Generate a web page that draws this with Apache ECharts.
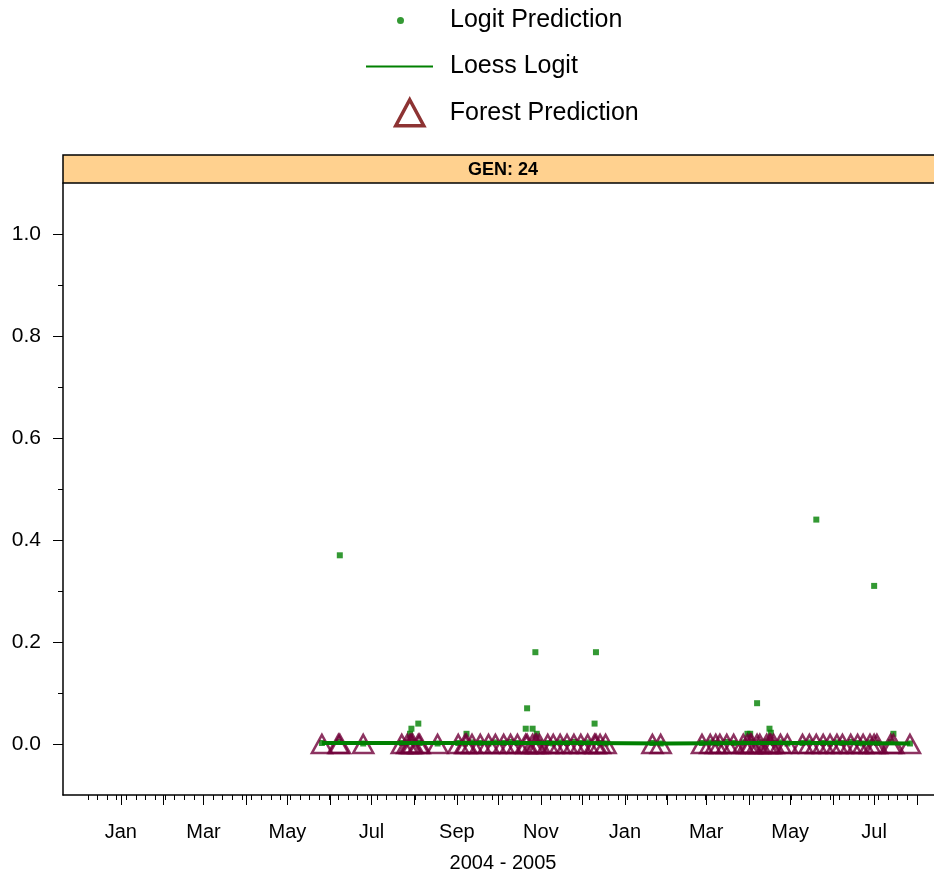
<!DOCTYPE html>
<html>
<head>
<meta charset="utf-8">
<script src="https://cdn.jsdelivr.net/npm/echarts@6/dist/echarts.min.js"></script>
<style>
  html, body { margin: 0; padding: 0; background: #ffffff; overflow: hidden; }
  #chart { width: 934px; height: 877px; }
</style>
</head>
<body>
<div id="chart"></div>
<script>
// Observation dates for GEN 24 and the two model predictions at each date
const obsDates = [
  '2004-05-26','2004-06-07','2004-06-08','2004-06-25','2004-07-23','2004-07-27','2004-07-29','2004-07-30',
  '2004-07-31','2004-08-04','2004-08-05','2004-08-18','2004-09-02','2004-09-07','2004-09-08','2004-09-12',
  '2004-09-18','2004-09-24','2004-09-29','2004-10-05','2004-10-10','2004-10-15','2004-10-21','2004-10-22',
  '2004-10-26','2004-10-28','2004-10-29','2004-10-31','2004-11-06','2004-11-10','2004-11-15','2004-11-20',
  '2004-11-25','2004-11-30','2004-12-05','2004-12-10','2004-12-11','2004-12-14','2004-12-18','2005-01-21',
  '2005-01-27','2005-02-26','2005-03-04','2005-03-08','2005-03-11','2005-03-16','2005-03-21','2005-03-28',
  '2005-03-31','2005-04-02','2005-04-03','2005-04-07','2005-04-09','2005-04-14','2005-04-16','2005-04-17',
  '2005-04-19','2005-04-24','2005-04-29','2005-05-10','2005-05-15','2005-05-20','2005-05-25','2005-05-30',
  '2005-06-04','2005-06-08','2005-06-14','2005-06-19','2005-06-23','2005-06-28','2005-07-01','2005-07-03',
  '2005-07-13','2005-07-15','2005-07-27'
];
const logitPred = [
  0.002, 0.004, 0.37, 0.001, 0.002, 0.003, 0.02, 0.03,
  0.004, 0.04, 0.002, 0.001, 0.002, 0.001, 0.02, 0.003,
  0.002, 0.001, 0.003, 0.002, 0.004, 0.002, 0.03, 0.07,
  0.03, 0.18, 0.02, 0.003, 0.002, 0.001, 0.003, 0.002,
  0.004, 0.002, 0.003, 0.04, 0.18, 0.002, 0.001, 0.002,
  0.001, 0.002, 0.003, 0.002, 0.001, 0.004, 0.002, 0.003,
  0.02, 0.02, 0.004, 0.08, 0.003, 0.005, 0.03, 0.022,
  0.002, 0.003, 0.001, 0.002, 0.003, 0.44, 0.002, 0.001,
  0.003, 0.002, 0.004, 0.002, 0.001, 0.003, 0.31, 0.002,
  0.004, 0.02, 0.001
];
const forestPred = [
  0, 0, 0, 0, 0, 0, 0, 0,
  0, 0, 0, 0, 0, 0, 0, 0,
  0, 0, 0, 0, 0, 0, 0, 0,
  0, 0, 0, 0, 0, 0, 0, 0,
  0, 0, 0, 0, 0, 0, 0, 0,
  0, 0, 0, 0, 0, 0, 0, 0,
  0, 0, 0, 0, 0, 0, 0, 0,
  0, 0, 0, 0, 0, 0, 0, 0,
  0, 0, 0, 0, 0, 0, 0, 0,
  0, 0, 0
];

// Loess smooth of the logit predictions
const loessDates  = ['2004-05-26','2004-08-01','2004-10-01','2004-12-01','2005-02-01','2005-04-01','2005-06-01','2005-07-27'];
const loessValues = [0.002, 0.002, 0.002, 0.002, 0.001, 0.002, 0.002, 0.001];

// Axis ticks and labels
const yTickValues  = [0, 0.2, 0.4, 0.6, 0.8, 1.0];
const yMinorValues = [0.1, 0.3, 0.5, 0.7, 0.9];
const monthLabelDates = ['2004-01-01','2004-03-01','2004-05-01','2004-07-01','2004-09-01','2004-11-01',
                         '2005-01-01','2005-03-01','2005-05-01','2005-07-01'];
const monthLabels = ['Jan','Mar','May','Jul','Sep','Nov','Jan','Mar','May','Jul'];
const axisStart = '2003-11-20';
const axisEnd   = '2005-08-20';
const firstWeekTick = '2003-12-08';
const lastTick = '2005-08-01';

// x positions are whole days counted from 1 Jan 2004
const DAY = 86400000;
const ORIGIN = Date.UTC(2004, 0, 1);
function dayOf(s) {
  const p = s.split('-').map(Number);
  return Math.round((Date.UTC(p[0], p[1] - 1, p[2]) - ORIGIN) / DAY);
}

const xMin = dayOf(axisStart);
const xMax = dayOf(axisEnd);

// month-start ticks, Jan 2004 .. Aug 2005
const monthTicks = [];
for (let y = 2004, m = 0; ; m++) {
  if (m === 12) { m = 0; y++; }
  const d = Math.round((Date.UTC(y, m, 1) - ORIGIN) / DAY);
  if (d > dayOf(lastTick)) break;
  monthTicks.push(d);
}
// weekly ticks
const weekTicks = [];
for (let d = dayOf(firstWeekTick); d <= dayOf(lastTick); d += 7) weekTicks.push(d);

const labelMap = {};
monthLabelDates.forEach((s, i) => { labelMap[dayOf(s)] = monthLabels[i]; });

const logitData  = obsDates.map((s, i) => [dayOf(s), logitPred[i]]);
const forestData = obsDates.map((s, i) => [dayOf(s), forestPred[i]]);
const loessData  = loessDates.map((s, i) => [dayOf(s), loessValues[i]]);

const FONT = "'Liberation Sans', Arial, sans-serif";
const GREEN = '#008000';
const FOREST = '#700039';

const chart = echarts.init(document.getElementById('chart'), null, { renderer: 'canvas' });

const legendBase = {
  orient: 'horizontal',
  padding: 0,
  selectedMode: false,
  textStyle: { fontFamily: FONT, fontSize: 25, color: '#000' }
};

chart.setOption({
  animation: false,
  backgroundColor: '#ffffff',
  legend: [
    Object.assign({}, legendBase, {
      data: ['Logit Prediction'], left: 397, top: 8,
      icon: 'circle', itemWidth: 7, itemHeight: 7,
      itemStyle: { color: GREEN },
      textStyle: Object.assign({}, legendBase.textStyle, { padding: [0, 0, 0, 41] })
    }),
    Object.assign({}, legendBase, {
      data: ['Loess Logit'], left: 366, top: 54,
      icon: 'rect', itemWidth: 67, itemHeight: 2,
      itemStyle: { color: GREEN },
      textStyle: Object.assign({}, legendBase.textStyle, { padding: [0, 0, 0, 12] })
    }),
    Object.assign({}, legendBase, {
      data: ['Forest Prediction'], left: 394, top: 98,
      icon: 'triangle', itemWidth: 28, itemHeight: 26,
      itemStyle: { color: 'rgba(0,0,0,0)', borderColor: '#700000', borderWidth: 3.5 },
      textStyle: Object.assign({}, legendBase.textStyle, { padding: [0, 0, 0, 21] })
    })
  ],
  grid: {
    left: 63, top: 183, width: 880, height: 612,
    outerBoundsMode: 'none', containLabel: false,
    show: false
  },
  graphic: [
    {
      type: 'rect', z: 10,
      shape: { x: 63, y: 155, width: 900, height: 28 },
      style: { fill: '#ffd18f', stroke: '#000', lineWidth: 1.5 }
    },
    {
      type: 'text', z: 11, x: 503, y: 170,
      style: {
        text: 'GEN: 24', fontFamily: FONT, fontWeight: 'bold', fontSize: 18,
        fill: '#000', align: 'center', verticalAlign: 'middle'
      }
    }
  ],
  xAxis: [
    {
      type: 'value', min: xMin, max: xMax, position: 'bottom',
      name: '2004 - 2005', nameLocation: 'middle', nameGap: 58,
      nameTextStyle: { fontFamily: FONT, fontSize: 20, color: '#000' },
      axisLine: { show: true, onZero: false, lineStyle: { color: '#000', width: 1.5 } },
      axisTick: { show: true, inside: false, length: 10, customValues: monthTicks,
                  lineStyle: { color: '#000', width: 1 } },
      axisLabel: {
        show: true, margin: 27, customValues: monthLabelDates.map(dayOf),
        fontFamily: FONT, fontSize: 20, color: '#000',
        formatter: v => labelMap[Math.round(v)] || ''
      },
      splitLine: { show: false }
    },
    {
      type: 'value', min: xMin, max: xMax, position: 'bottom', offset: 0,
      axisLine: { show: false, onZero: false },
      axisTick: { show: true, inside: false, length: 5, customValues: weekTicks,
                  lineStyle: { color: '#000', width: 1 } },
      axisLabel: { show: false },
      splitLine: { show: false }
    }
  ],
  yAxis: [
    {
      type: 'value', min: -0.1, max: 1.1, position: 'left',
      axisLine: { show: true, onZero: false, lineStyle: { color: '#000', width: 1.5 } },
      axisTick: { show: true, inside: false, length: 10, customValues: yTickValues,
                  lineStyle: { color: '#000', width: 1 } },
      axisLabel: {
        show: true, margin: 22, customValues: yTickValues,
        fontFamily: FONT, fontSize: 21, color: '#000',
        formatter: v => v.toFixed(1)
      },
      splitLine: { show: false }
    },
    {
      type: 'value', min: -0.1, max: 1.1, position: 'left', offset: 0,
      axisLine: { show: false, onZero: false },
      axisTick: { show: true, inside: false, length: 5, customValues: yMinorValues,
                  lineStyle: { color: '#000', width: 1 } },
      axisLabel: { show: false },
      splitLine: { show: false }
    }
  ],
  series: [
    {
      name: 'Logit Prediction', type: 'scatter', xAxisIndex: 0, yAxisIndex: 0,
      symbol: 'rect', symbolSize: 6,
      itemStyle: { color: GREEN },
      data: logitData
    },
    {
      name: 'Loess Logit', type: 'line', xAxisIndex: 0, yAxisIndex: 0,
      showSymbol: false, symbol: 'none', smooth: false,
      lineStyle: { color: GREEN, width: 4 },
      itemStyle: { color: GREEN },
      data: loessData
    },
    {
      name: 'Forest Prediction', type: 'scatter', xAxisIndex: 0, yAxisIndex: 0,
      symbol: 'triangle', symbolSize: [20, 18],
      itemStyle: { color: 'rgba(0,0,0,0)', borderColor: FOREST, borderWidth: 2.5 },
      data: forestData
    }
  ]
});
</script>
</body>
</html>
